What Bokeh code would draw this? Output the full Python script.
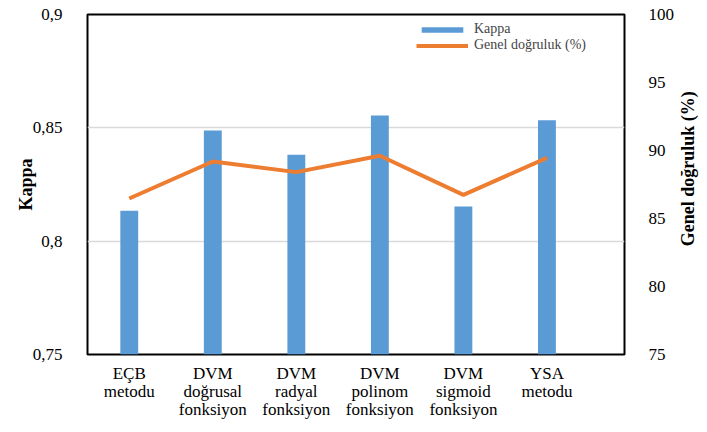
import math
from bokeh.plotting import figure
from bokeh.layouts import row
from bokeh.models import Range1d, LinearAxis, FixedTicker, CustomJSTickFormatter, Legend, LegendItem
from bokeh.core.properties import value
from bokeh.embed import file_html
from bokeh.resources import INLINE

categories = ["EÇB\nmetodu", "DVM\ndoğrusal\nfonksiyon", "DVM\nradyal\nfonksiyon",
              "DVM\npolinom\nfonksiyon", "DVM\nsigmoid\nfonksiyon", "YSA\nmetodu"]
kappa = [0.8134, 0.8488, 0.8381, 0.8554, 0.8153, 0.8534]
accuracy = [86.47, 89.19, 88.41, 89.61, 86.74, 89.46]
left_ticks = [0.75, 0.8, 0.85, 0.9]
right_ticks = [75, 80, 85, 90, 95, 100]
right_title = "Genel doğruluk (%)"

BLUE = "#5B9BD5"
ORANGE = "#ED7D31"
FONT = "Liberation Serif"

xs = list(range(len(categories)))

p = figure(width=677, height=432, output_backend="svg", toolbar_location=None,
           x_range=Range1d(-0.5, -0.5 + 540 / 84), y_range=Range1d(0.75, 0.9),
           min_border_left=87, min_border_right=50, min_border_top=14, min_border_bottom=78)
p.extra_y_ranges = {"acc": Range1d(75, 100)}

p.outline_line_color = "black"
p.outline_line_width = 2
p.background_fill_color = "white"
p.border_fill_color = "white"

bars = p.vbar(x=xs, top=kappa, bottom=0.75, width=0.214, fill_color=BLUE, line_color=None)
ln = p.line(x=xs, y=accuracy, y_range_name="acc", line_color=ORANGE, line_width=4, line_join="round")

# axes
p.xaxis.ticker = FixedTicker(ticks=xs)
p.xaxis.major_label_overrides = {i: c for i, c in enumerate(categories)}
p.yaxis.ticker = FixedTicker(ticks=left_ticks)
p.yaxis.formatter = CustomJSTickFormatter(code="return tick.toFixed(2).replace(/0+$/,'').replace('.',',');")

right = LinearAxis(y_range_name="acc", ticker=FixedTicker(ticks=right_ticks))
p.add_layout(right, "right")

p.yaxis[0].axis_label = "Kappa"

for ax in [p.xaxis[0], p.yaxis[0], right]:
    ax.axis_line_color = None
    ax.major_tick_line_color = None
    ax.minor_tick_line_color = None
    ax.major_label_text_font = FONT
    ax.major_label_text_font_size = "17px"
    ax.major_label_text_font_style = "normal"
    ax.major_label_text_color = "black"
    ax.axis_label_text_font = FONT
    ax.axis_label_text_font_size = "18px"
    ax.axis_label_text_font_style = "bold"
    ax.axis_label_text_color = "black"

p.xaxis.major_label_standoff = 3
p.xaxis.major_label_text_line_height = 0.95
p.yaxis[0].major_label_standoff = 19
p.yaxis[0].axis_label_standoff = -6
right.major_label_standoff = 18

p.xgrid.grid_line_color = None
p.ygrid.ticker = FixedTicker(ticks=left_ticks)
p.ygrid.grid_line_color = "#D9D9D9"
p.ygrid.grid_line_width = 1.5

legend = Legend(items=[LegendItem(label="Kappa", renderers=[bars]),
                       LegendItem(label="Genel doğruluk (%)", renderers=[ln])],
                location=(329, 301), padding=0, margin=0, spacing=0,
                glyph_width=52, glyph_height=7, label_height=16, label_standoff=6,
                label_text_font=FONT, label_text_font_size="14px",
                border_line_color=None, background_fill_alpha=0)
p.add_layout(legend)

# narrow strip holding the right-axis title, reading bottom-to-top
q = figure(width=30, height=432, output_backend="svg", toolbar_location=None,
           x_range=Range1d(0, 30), y_range=Range1d(0, 432),
           min_border=0, min_border_left=0, min_border_right=0, min_border_top=0, min_border_bottom=0)
q.axis.visible = False
q.grid.grid_line_color = None
q.outline_line_color = None
q.background_fill_color = "white"
q.border_fill_color = "white"
q.text(x=[10], y=[236], text=[right_title], angle=math.pi / 2,
       text_align="center", text_baseline="middle",
       text_font=value(FONT), text_font_size="18px", text_font_style="bold", text_color="black")

layout = row(p, q, spacing=0)
open("out.html", "w").write(file_html(layout, INLINE))
